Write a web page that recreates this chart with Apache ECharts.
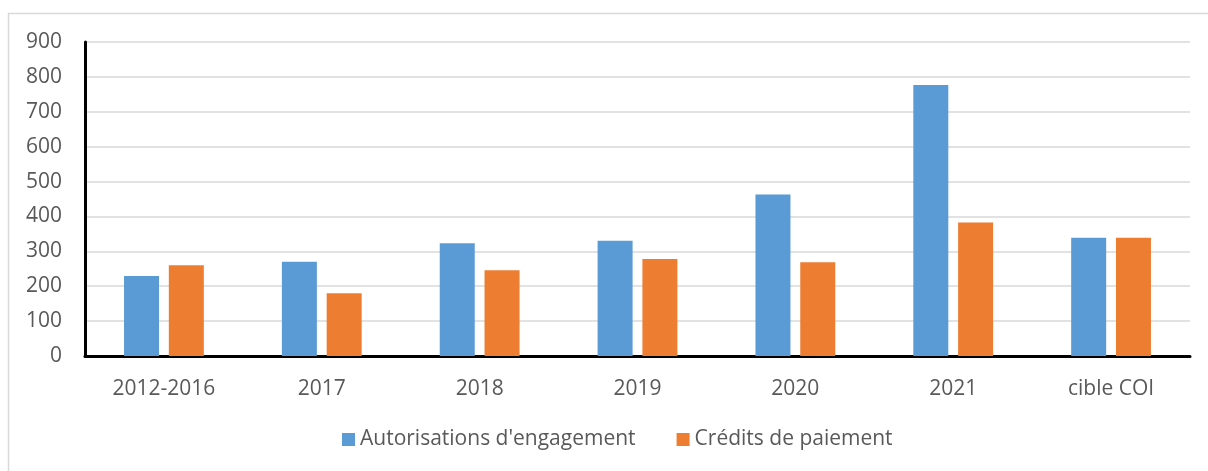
<!DOCTYPE html>
<html>
<head>
<meta charset="utf-8">
<script src="https://cdn.jsdelivr.net/npm/echarts@6/dist/echarts.min.js"></script>
<style>
html,body{margin:0;padding:0;background:#fff;}
#chart{width:1208px;height:471px;}
</style>
</head>
<body>
<div id="chart"></div>
<script>
const categories = ['2012-2016', '2017', '2018', '2019', '2020', '2021', 'cible COI'];
const autorisations = [229, 270, 323, 330, 463, 777, 339];
const credits = [260, 180, 246, 278, 269, 383, 339];
const seriesNames = ["Autorisations d'engagement", 'Crédits de paiement'];

const FONT = '"Open Sans", sans-serif';
const TXT = '#595959';

const chart = echarts.init(document.getElementById('chart'), null, {renderer: 'canvas'});
chart.setOption({
  animation: false,
  backgroundColor: '#ffffff',
  graphic: [{
    type: 'rect',
    shape: {x: 8.5, y: 13.5, width: 1400, height: 700},
    style: {fill: 'none', stroke: '#d9d9d9', lineWidth: 1.5},
    silent: true,
    z: -10
  }],
  grid: {left: 85, right: 18, top: 42, bottom: 115, containLabel: false},
  legend: {
    left: 342,
    top: 429,
    padding: 0,
    itemWidth: 13,
    itemHeight: 13,
    itemGap: 41,
    icon: 'rect',
    textStyle: {fontFamily: FONT, fontSize: 21, color: TXT},
    data: seriesNames
  },
  xAxis: {
    type: 'category',
    data: categories,
    axisLine: {lineStyle: {color: '#000', width: 3}},
    axisTick: {show: false},
    axisLabel: {fontFamily: FONT, fontSize: 21, color: TXT, margin: 23}
  },
  yAxis: {
    type: 'value',
    min: 0,
    max: 900,
    interval: 100,
    axisLine: {show: true, lineStyle: {color: '#000', width: 3}},
    axisTick: {show: false},
    axisLabel: {fontFamily: FONT, fontSize: 21, color: TXT, margin: 23},
    splitLine: {lineStyle: {color: '#d9d9d9', width: 1.5}}
  },
  series: [
    {
      name: seriesNames[0],
      type: 'bar',
      data: autorisations,
      barWidth: 35,
      barGap: '28%',
      itemStyle: {color: '#5B9BD5'}
    },
    {
      name: seriesNames[1],
      type: 'bar',
      data: credits,
      barWidth: 35,
      barGap: '28%',
      itemStyle: {color: '#ED7D31'}
    }
  ]
});
</script>
</body>
</html>
